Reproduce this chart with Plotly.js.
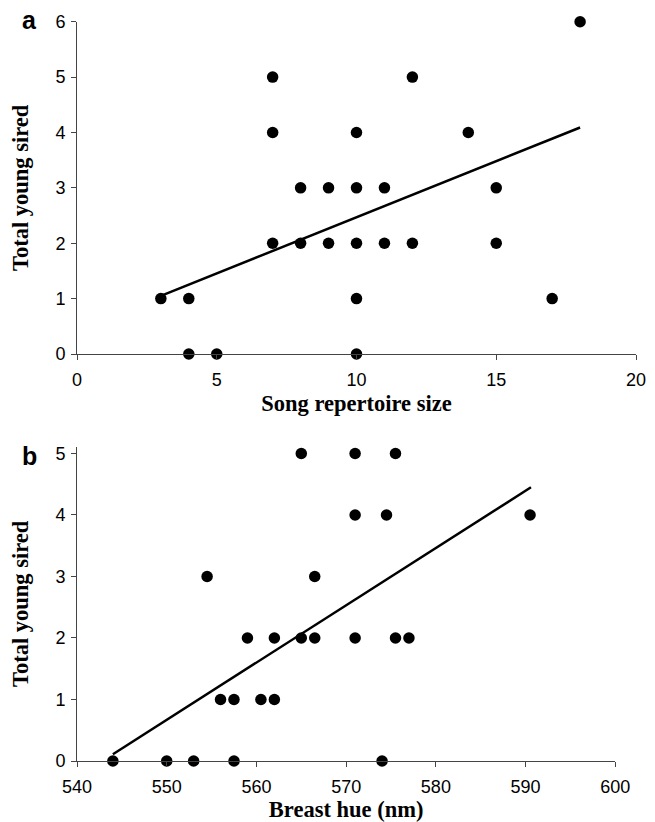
<!DOCTYPE html>
<html>
<head>
<meta charset="utf-8">
<script src="https://cdn.plot.ly/plotly-3.0.1.min.js"></script>
<style>html,body{margin:0;padding:0;background:#fff}#chart{width:655px;height:822px}</style>
</head>
<body>
<div id="chart"></div>
<script>
// Panel a: song repertoire size vs total young sired
const repertoireSize = [3,4,4,5,7,7,7,8,8,9,9,10,10,10,10,10,11,11,12,12,14,15,15,17,18];
const youngSiredA    = [1,1,0,0,5,4,2,3,2,3,2,4,3,2,1,0,3,2,5,2,4,3,2,1,6];
const trendAx = [3, 18];
const trendAy = [1.05, 4.09];

// Panel b: breast hue vs total young sired
const breastHue   = [544,550,553,557.5,574,554.5,556,557.5,560.5,562,559,562,565,566.5,571,575.5,577,566.5,565,571,575.5,571,574.5,590.5];
const youngSiredB = [0,0,0,0,0,3,1,1,1,1,2,2,2,2,2,2,2,3,5,5,5,4,4,4];
const trendBx = [544, 590.6];
const trendBy = [0.11, 4.45];

const xTicksA = [0,5,10,15,20];
const yTicksA = [0,1,2,3,4,5,6];
const xTicksB = [540,550,560,570,580,590,600];
const yTicksB = [0,1,2,3,4,5];

const W = 655, H = 822;
const tickFont = {family: 'Liberation Sans, Arial, sans-serif', size: 18, color: '#000'};
const titleFont = {family: 'Liberation Serif, Times New Roman, serif', size: 22.5, color: '#000'};
const mk = {color: '#000', size: 11.5};
const ln = {color: '#000', width: 2.5};

const traces = [
  {x: repertoireSize, y: youngSiredA, mode: 'markers', type: 'scatter', marker: mk, cliponaxis: false, xaxis: 'x', yaxis: 'y'},
  {x: trendAx, y: trendAy, mode: 'lines', type: 'scatter', line: ln, cliponaxis: false, xaxis: 'x', yaxis: 'y'},
  {x: breastHue, y: youngSiredB, mode: 'markers', type: 'scatter', marker: mk, cliponaxis: false, xaxis: 'x2', yaxis: 'y2'},
  {x: trendBx, y: trendBy, mode: 'lines', type: 'scatter', line: ln, cliponaxis: false, xaxis: 'x2', yaxis: 'y2'}
];

function ax(extra) {
  return Object.assign({
    showgrid: false, zeroline: false, showline: true, linecolor: '#444', linewidth: 1,
    ticks: 'outside', ticklen: 5, tickcolor: '#444', tickwidth: 1,
    tickfont: tickFont, tickmode: 'array', fixedrange: true
  }, extra);
}

const layout = {
  width: W, height: H,
  margin: {l: 0, r: 0, t: 0, b: 0},
  paper_bgcolor: '#fff', plot_bgcolor: '#fff',
  showlegend: false,
  xaxis: ax({domain: [77/W, 636/W], range: [0, 20], tickvals: xTicksA, anchor: 'y', ticklabelstandoff: 4,
    title: {text: '<b>Song repertoire size</b>', font: titleFont, standoff: 6}}),
  yaxis: ax({domain: [1 - 354/H, 1 - 21.7/H], range: [0, 6], tickvals: yTicksA, anchor: 'x', ticklabelstandoff: 2,
    title: {text: '<b>Total young sired</b>', font: titleFont, standoff: 20}}),
  xaxis2: ax({domain: [77/W, 615.3/W], range: [540, 600], tickvals: xTicksB, anchor: 'y2', ticklabelstandoff: 4,
    title: {text: '<b>Breast hue (nm)</b>', font: titleFont, standoff: 5}}),
  yaxis2: ax({domain: [1 - 761/H, 1 - 446.7/H], range: [0, 5.11], tickvals: yTicksB, anchor: 'x2', ticklabelstandoff: 2,
    title: {text: '<b>Total young sired</b>', font: titleFont, standoff: 20}}),
  annotations: [
    {text: '<b>a</b>', xref: 'paper', yref: 'paper', x: 29/W, y: 1 - 20/H, showarrow: false,
     font: {family: 'Liberation Sans, Arial, sans-serif', size: 25, color: '#000'}, xanchor: 'center', yanchor: 'middle'},
    {text: '<b>b</b>', xref: 'paper', yref: 'paper', x: 29/W, y: 1 - 456/H, showarrow: false,
     font: {family: 'Liberation Sans, Arial, sans-serif', size: 25, color: '#000'}, xanchor: 'center', yanchor: 'middle'}
  ]
};

Plotly.newPlot('chart', traces, layout, {staticPlot: true, displayModeBar: false});
</script>
</body>
</html>
